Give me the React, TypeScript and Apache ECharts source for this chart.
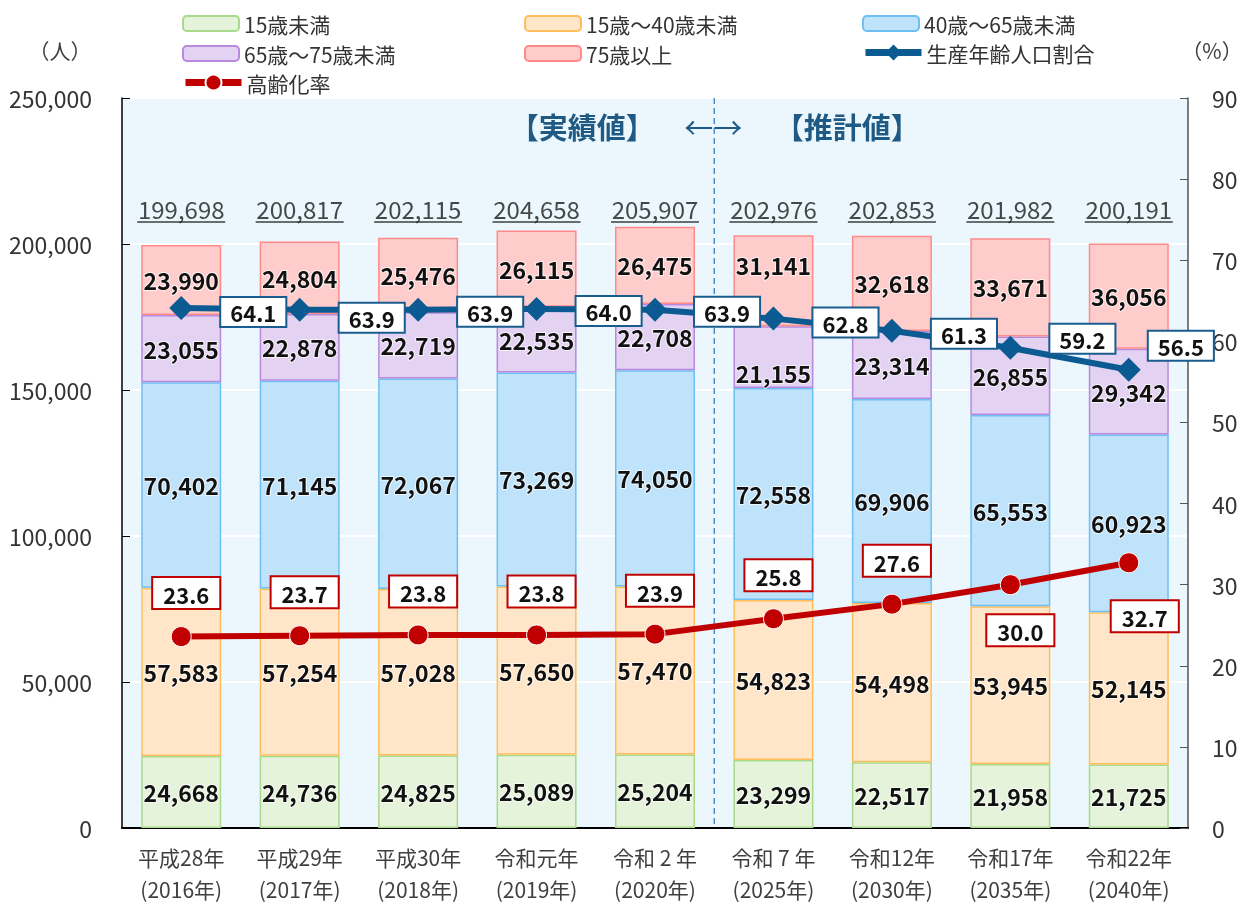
import React, { useEffect, useRef } from "react";
import * as echarts from "echarts";

const categories = [
  "平成28年\n(2016年)",
  "平成29年\n(2017年)",
  "平成30年\n(2018年)",
  "令和元年\n(2019年)",
  "令和 2 年\n(2020年)",
  "令和 7 年\n(2025年)",
  "令和12年\n(2030年)",
  "令和17年\n(2035年)",
  "令和22年\n(2040年)",
];

const under15 = [24668, 24736, 24825, 25089, 25204, 23299, 22517, 21958, 21725];
const age15to40 = [57583, 57254, 57028, 57650, 57470, 54823, 54498, 53945, 52145];
const age40to65 = [70402, 71145, 72067, 73269, 74050, 72558, 69906, 65553, 60923];
const age65to75 = [23055, 22878, 22719, 22535, 22708, 21155, 23314, 26855, 29342];
const age75plus = [23990, 24804, 25476, 26115, 26475, 31141, 32618, 33671, 36056];

const workingAgeRatio = [64.1, 63.9, 63.9, 64.0, 63.9, 62.8, 61.3, 59.2, 56.5];
const agingRate = [23.6, 23.7, 23.8, 23.8, 23.9, 25.8, 27.6, 30.0, 32.7];

const leftTicks = { min: 0, max: 250000, interval: 50000 };
const rightTicks = { min: 0, max: 90, interval: 10 };

const names = {
  a: "15歳未満",
  b: "15歳～40歳未満",
  c: "40歳～65歳未満",
  d: "65歳～75歳未満",
  e: "75歳以上",
  w: "生産年齢人口割合",
  r: "高齢化率",
};

const FONT = "'Noto Sans CJK JP', 'Noto Sans', sans-serif";
const fmt = (v: number) => v.toLocaleString("en-US");

export default function App() {
  const ref = useRef<HTMLDivElement>(null);

  useEffect(() => {
    if (!ref.current) return;
    const chart = echarts.init(ref.current, null, { renderer: "svg" });

    const totals = categories.map(
      (_, i) => under15[i] + age15to40[i] + age40to65[i] + age65to75[i] + age75plus[i]
    );
    const TOTAL_LINE_Y = 207500; // placement of underlined totals

    const barSeries = (
      name: string,
      data: number[],
      color: string,
      border: string,
      offsets: Record<number, number> = {}
    ) => ({
      name,
      type: "bar",
      stack: "pop",
      barWidth: 80,
      data: data.map((v, i) =>
        offsets[i] !== undefined ? { value: v, label: { offset: [0, offsets[i]] } } : v
      ),
      itemStyle: { color, borderColor: border, borderWidth: 1.5 },
      label: {
        show: true,
        position: "inside",
        fontFamily: FONT,
        fontSize: 23,
        fontWeight: "bold",
        color: "#111",
        textBorderColor: "rgba(255,255,255,0.7)",
        textBorderWidth: 2,
        formatter: (p: any) => fmt(p.value),
      },
      z: 2,
    });

    const wLabelOffsets: Record<number, any> = {
      0: [0, 4],
      1: [0, 8],
      2: [0, 2],
      3: [0, 2],
      4: [0, 2],
      5: [0, 4],
      6: [0, 3],
      7: [0, -9],
      8: [-20, -24],
    };
    const rLabelOverride: Record<number, any> = {
      7: { position: "bottom", distance: 20, offset: [10, 0] },
      8: { position: "bottom", distance: 20, offset: [16, 8] },
    };

    const legendText = { fontSize: 21, color: "#333", fontFamily: FONT };
    const mkLegend = (name: string, left: number, top: number, extra: any = {}) => ({
      data: [name],
      left,
      top,
      itemWidth: 56,
      itemHeight: 15,
      itemGap: 5,
      textStyle: legendText,
      ...extra,
    });

    const option: any = {
      animation: false,
      textStyle: { fontFamily: FONT },
      grid: {
        left: 122,
        right: 62,
        top: 98,
        bottom: 78,
        show: true,
        backgroundColor: "#EBF7FD",
        borderWidth: 0,
      },
      legend: [
        mkLegend(names.a, 177, 8),
        mkLegend(names.d, 177, 38),
        mkLegend(names.r, 177, 67, {
          itemHeight: 20,
          data: [{ name: names.r, lineStyle: { width: 7, color: "#C00000" } }],
        }),
        mkLegend(names.b, 519, 8),
        mkLegend(names.e, 519, 38),
        mkLegend(names.c, 857, 8),
        mkLegend(names.w, 857, 37, {
          itemHeight: 20,
          data: [{ name: names.w, lineStyle: { width: 7, color: "#0B5A92" } }],
        }),
      ],
      xAxis: {
        type: "category",
        data: categories,
        axisLine: { lineStyle: { color: "#000", width: 2 } },
        axisTick: { inside: true, length: 7, lineStyle: { color: "#000", width: 2 } },
        axisLabel: {
          fontSize: 21,
          color: "#404040",
          lineHeight: 32,
          margin: 13,
          fontFamily: FONT,
        },
      },
      yAxis: [
        {
          type: "value",
          ...leftTicks,
          axisLine: { show: true, lineStyle: { color: "#000", width: 1.5 } },
          axisTick: { show: true, inside: true, length: 8, lineStyle: { color: "#000" } },
          splitLine: { show: true, lineStyle: { color: "#fff", width: 2 } },
          axisLabel: {
            fontSize: 23,
            color: "#333",
            margin: 30,
            fontFamily: FONT,
            formatter: (v: number) => fmt(v),
          },
        },
        {
          type: "value",
          ...rightTicks,
          position: "right",
          axisLine: { show: true, lineStyle: { color: "#555", width: 1.5 } },
          axisTick: { show: true, inside: true, length: 8, lineStyle: { color: "#555" } },
          splitLine: { show: false },
          axisLabel: { fontSize: 23, color: "#333", margin: 24, fontFamily: FONT },
        },
      ],
      series: [
        barSeries(names.a, under15, "#E5F3DB", "#A9D98A"),
        barSeries(names.b, age15to40, "#FFE6C8", "#FFBE5C"),
        barSeries(names.c, age40to65, "#BFE3FB", "#6FC0F2"),
        barSeries(names.d, age65to75, "#E3D2F2", "#B78AE0", { 5: 16 }),
        barSeries(names.e, age75plus, "#FFCCCC", "#FF8A8A", { 5: -16 }),
        {
          name: "totals",
          type: "scatter",
          data: totals.map((t) => ({ value: TOTAL_LINE_Y, total: t })),
          symbol: "rect",
          symbolSize: [88, 1.5],
          itemStyle: { color: "#111" },
          silent: true,
          z: 3,
          label: {
            show: true,
            position: "top",
            distance: 1,
            fontSize: 24,
            color: "#1a1a1a",
            fontFamily: FONT,
            formatter: (p: any) => fmt(totals[p.dataIndex]),
          },
        },
        {
          name: names.w,
          type: "line",
          yAxisIndex: 1,
          data: workingAgeRatio.map((v, i) =>
            wLabelOffsets[i] ? { value: v, label: { offset: wLabelOffsets[i] } } : v
          ),
          symbol: "diamond",
          symbolSize: 24,
          lineStyle: { color: "#0B5A92", width: 6 },
          itemStyle: { color: "#0B5A92" },
          z: 5,
          label: {
            show: true,
            position: "right",
            distance: 28,
            fontSize: 22,
            fontWeight: "bold",
            color: "#111",
            fontFamily: FONT,
            backgroundColor: "#fff",
            borderColor: "#1A5C8E",
            borderWidth: 2,
            padding: [4, 9, 2, 9],
            formatter: (p: any) => Number(p.value).toFixed(1),
          },
        },
        {
          name: names.r,
          type: "line",
          yAxisIndex: 1,
          data: agingRate.map((v, i) =>
            rLabelOverride[i] ? { value: v, label: rLabelOverride[i] } : v
          ),
          symbol: "circle",
          symbolSize: 20,
          lineStyle: { color: "#C00000", width: 6 },
          itemStyle: { color: "#C00000", borderColor: "#fff", borderWidth: 1 },
          z: 6,
          label: {
            show: true,
            position: "top",
            distance: 18,
            offset: [5, 0],
            fontSize: 22,
            fontWeight: "bold",
            color: "#111",
            fontFamily: FONT,
            backgroundColor: "#fff",
            borderColor: "#C00000",
            borderWidth: 2,
            padding: [5, 10, 3, 10],
            formatter: (p: any) => Number(p.value).toFixed(1),
          },
        },
      ],
    };

    chart.setOption(option);

    const x4 = chart.convertToPixel({ xAxisIndex: 0 }, 4) as number;
    const x5 = chart.convertToPixel({ xAxisIndex: 0 }, 5) as number;
    const xDiv = (x4 + x5) / 2;
    const yTop = chart.convertToPixel({ yAxisIndex: 0 }, leftTicks.max) as number;
    const yBot = chart.convertToPixel({ yAxisIndex: 0 }, 0) as number;

    const titleStyle = (text: string, size: number, weight: string) => ({
      text,
      font: `${weight} ${size}px ${FONT}`,
      fill: "#1F5A85",
      align: "center",
      verticalAlign: "middle",
    });

    chart.setOption({
      graphic: [
        {
          type: "line",
          shape: { x1: xDiv, y1: yTop, x2: xDiv, y2: yBot },
          style: { stroke: "#2E75B6", lineWidth: 1.2, lineDash: [6, 4] },
          z: 1,
          silent: true,
        },
        {
          type: "text",
          x: 60,
          y: 50,
          style: {
            text: "（人）",
            font: `21px ${FONT}`,
            fill: "#404040",
            align: "center",
            verticalAlign: "middle",
          },
        },
        {
          type: "text",
          x: 1212,
          y: 50,
          style: {
            text: "（%）",
            font: `21px ${FONT}`,
            fill: "#404040",
            align: "center",
            verticalAlign: "middle",
          },
        },
        { type: "text", x: xDiv - 132, y: 126, style: titleStyle("【実績値】", 29, "bold") },
        { type: "text", x: xDiv - 1, y: 126, style: titleStyle("←→", 29, "normal") },
        { type: "text", x: xDiv + 133, y: 126, style: titleStyle("【推計値】", 29, "bold") },
      ],
    });

    return () => chart.dispose();
  }, []);

  return (
    <div
      ref={ref}
      style={{ position: "fixed", left: 0, top: 0, width: 1250, height: 906 }}
    />
  );
}
